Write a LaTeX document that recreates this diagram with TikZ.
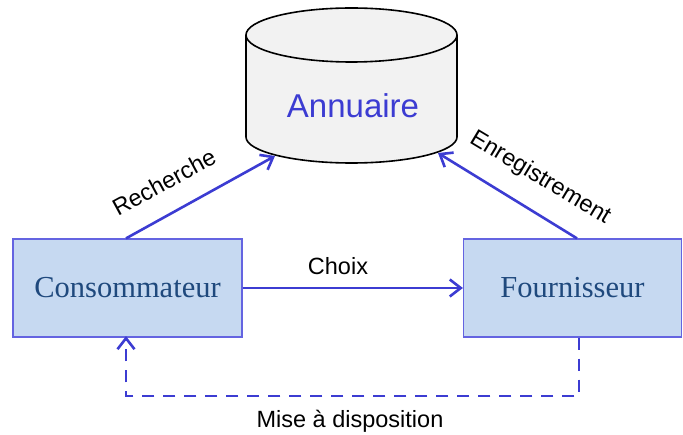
\documentclass[tikz,border=0pt]{standalone}
\usepackage{fontspec}
\setmainfont{Liberation Sans}
\newfontfamily\boxfont{Liberation Serif}
\usetikzlibrary{arrows.meta}
\definecolor{linkblue}{RGB}{60,60,210}
\definecolor{boxfill}{RGB}{198,217,241}
\definecolor{boxborder}{RGB}{100,100,225}
\definecolor{boxtext}{RGB}{31,73,125}
\definecolor{cylfill}{RGB}{242,242,242}
\tikzset{
  actor/.style={draw=boxborder, line width=1.2pt, fill=boxfill, minimum width=229pt, minimum height=98pt, font=\boxfont\fontsize{30.5}{33}\selectfont, text=boxtext, inner sep=0pt},
  link/.style={draw=linkblue, line width=2.6pt, -{Straight Barb[length=11pt,width=17pt,line width=2.6pt]}},
  dashlink/.style={link, dash pattern=on 12pt off 9pt, line cap=butt},
  lbl/.style={font=\fontsize{23.5}{26}\selectfont, text=black, inner sep=0pt}
}
\begin{document}
\begin{tikzpicture}[x=1pt,y=-1pt]
\useasboundingbox (0,0) rectangle (683,435);
% cylinder
\fill[cylfill] (246,35) -- (246,137) arc[start angle=180,end angle=0,x radius=105.5,y radius=26] -- (457,35) arc[start angle=0,end angle=-180,x radius=105.5,y radius=27] -- cycle;
\draw[line width=1.6pt] (246,35) -- (246,137) arc[start angle=180,end angle=0,x radius=105.5,y radius=26] -- (457,35);
\draw[line width=1.6pt] (351.5,35) ellipse[x radius=105.5,y radius=27];
\node[font=\fontsize{33}{36}\selectfont, text=linkblue, inner sep=0pt] (annuaire) at (353,106) {Annuaire};
\coordinate (tipR) at (275,156);
\coordinate (tipE) at (438,153);
% boxes
\node[actor] (cons) at (127.5,288) {Consommateur};
\node[actor, minimum width=218pt] (four) at (572.5,288) {Fournisseur};
% links
\draw[link] (cons.north -| 126,0) -- (tipR);
\draw[link] (four.north -| 577,0) -- (tipE);
\draw[link] (cons.east) -- (four.west);
\coordinate (dr) at (579,396);
\coordinate (dl) at (126,396);
\draw[dashlink] (four.south -| dr) -- (dr) -- (dl) -- ([yshift=1.5pt]cons.south -| dl);
% labels
\node[lbl, rotate=28.5] (lrech) at (164,182) {Recherche};
\node[lbl, rotate=-31] (lenr) at (540,178) {Enregistrement};
\node[lbl] (lchoix) at (338,266) {Choix};
\node[lbl] (lmise) at (350,421) {Mise à disposition};
\end{tikzpicture}
\end{document}
